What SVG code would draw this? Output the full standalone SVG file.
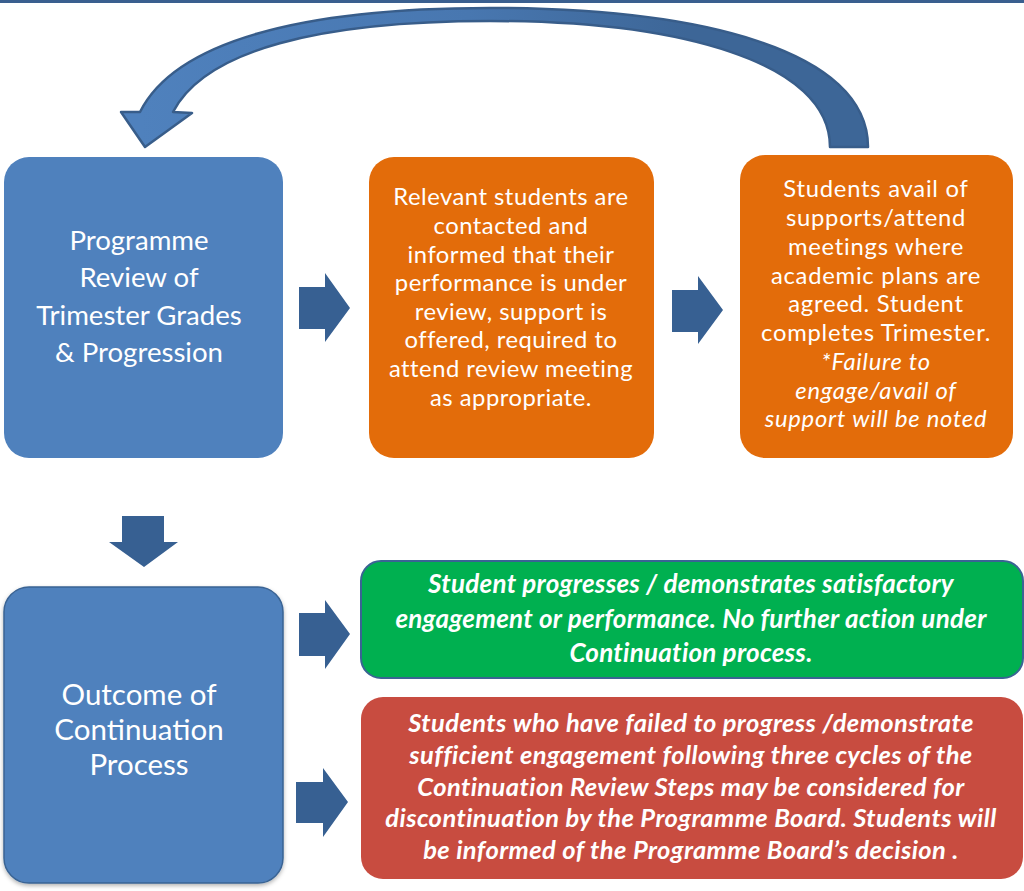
<svg xmlns="http://www.w3.org/2000/svg" width="1024" height="891" viewBox="0 0 1024 891">
<defs>
<style>
.t{font-family:Lato,"Open Sans","Liberation Sans",sans-serif;fill:#fff;text-anchor:middle}
.bi{font-weight:bold;font-style:italic}
.arr{fill:#376092}
</style>
<linearGradient id="cg" x1="140" y1="0" x2="870" y2="0" gradientUnits="userSpaceOnUse">
<stop offset="0" stop-color="#4F81BD"/>
<stop offset="0.45" stop-color="#4877B0"/>
<stop offset="0.75" stop-color="#3D6697"/>
<stop offset="1" stop-color="#3D6697"/>
</linearGradient>
<filter id="sh" x="-5%" y="-5%" width="112%" height="112%">
<feDropShadow dx="0" dy="2" stdDeviation="2" flood-color="#000" flood-opacity="0.3"/>
</filter>
</defs>
<rect x="0" y="0" width="1024" height="3" fill="#3A5F8F"/>

<g id="connectors">
<path d="M868 147 C868 50 700 8 490 8 C300 8 175 42 140 112 L121 112 L145 147 L192 113 L173 112 C205 50 320 21 490 21 C680 21 830 62 830 147 Z" fill="url(#cg)" stroke="#385D8A" stroke-width="2.5" stroke-linejoin="round"/>
<polygon class="arr" points="299,287 325,287 325,273 350,308 325,342 325,329 299,329"/>
<polygon class="arr" points="672,290 698,290 698,276 723,310 698,344 698,332 672,332"/>
<polygon class="arr" points="122,516 164,516 164,542 178,542 144,567 109,542 122,542"/>
<polygon class="arr" points="299,613 325,613 325,600 350,634 325,669 325,656 299,656"/>
<polygon class="arr" points="296,782 323,782 323,768 348,802 323,837 323,823 296,823"/>
</g>

<g id="box1">
<rect x="4" y="157" width="279" height="301" rx="25" fill="#4F81BD"/>
<text class="t" font-size="27.6"><tspan x="139" y="250">Programme</tspan><tspan x="139" y="287">Review of</tspan><tspan x="139" y="325">Trimester Grades</tspan><tspan x="139" y="362">&amp; Progression</tspan></text>
</g>

<g id="box2">
<rect x="369" y="157" width="285" height="301" rx="25" fill="#E36C0A"/>
<text class="t" font-size="23.8" letter-spacing="0.5"><tspan x="511" y="205">Relevant students are</tspan><tspan x="511" y="234">contacted and</tspan><tspan x="511" y="263">informed that their</tspan><tspan x="511" y="291">performance is under</tspan><tspan x="511" y="320">review, support is</tspan><tspan x="511" y="348">offered, required to</tspan><tspan x="511" y="377">attend review meeting</tspan><tspan x="511" y="406">as appropriate.</tspan></text>
</g>

<g id="box3">
<rect x="740" y="155" width="273" height="303" rx="25" fill="#E36C0A"/>
<text class="t" font-size="23.8" letter-spacing="0.75"><tspan x="876" y="197">Students avail of</tspan><tspan x="876" y="226">supports/attend</tspan><tspan x="876" y="255">meetings where</tspan><tspan x="876" y="284">academic plans are</tspan><tspan x="876" y="312">agreed. Student</tspan><tspan x="876" y="341">completes Trimester.</tspan><tspan x="876" y="370" font-style="italic">*Failure to</tspan><tspan x="876" y="399" font-style="italic">engage/avail of</tspan><tspan x="876" y="427" font-style="italic">support will be noted</tspan></text>
</g>

<g id="box4">
<rect x="4" y="587" width="279" height="296" rx="25" fill="#4F81BD" stroke="#3A6494" stroke-width="1.5" filter="url(#sh)"/>
<text class="t" font-size="29.5"><tspan x="139" y="705">Outcome of</tspan><tspan x="139" y="740">Continuation</tspan><tspan x="139" y="775">Process</tspan></text>
</g>

<g id="box5">
<rect x="361" y="561" width="662" height="117" rx="20" fill="#00B050" stroke="#3A6494" stroke-width="2"/>
<text class="t bi" font-size="26" letter-spacing="0.25"><tspan x="691" y="593">Student progresses / demonstrates satisfactory</tspan><tspan x="691" y="628">engagement or performance. No further action under</tspan><tspan x="691" y="662">Continuation process.</tspan></text>
</g>

<g id="box6">
<rect x="361" y="697" width="662" height="182" rx="22" fill="#C84C40"/>
<text class="t bi" font-size="25.5" letter-spacing="0.42"><tspan x="691" y="732">Students who have failed to progress /demonstrate</tspan><tspan x="691" y="764">sufficient engagement following three cycles of the</tspan><tspan x="691" y="796">Continuation Review Steps may be considered for</tspan><tspan x="691" y="827">discontinuation by the Programme Board. Students will</tspan><tspan x="691" y="859">be informed of the Programme Board’s decision .</tspan></text>
</g>
</svg>
